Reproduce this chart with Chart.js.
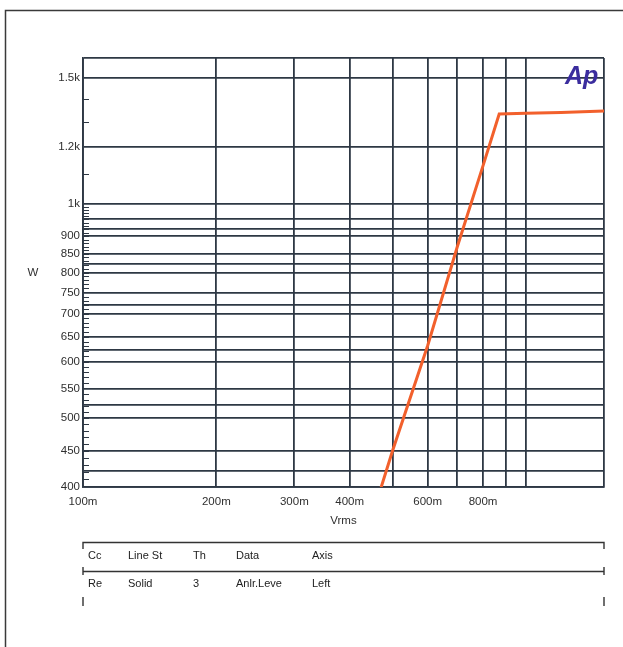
<!DOCTYPE html>
<html>
<head>
<meta charset="utf-8">
<script src="https://cdn.jsdelivr.net/npm/chart.js@4.4.1/dist/chart.umd.min.js"></script>
<style>
  html, body { margin: 0; padding: 0; background: #ffffff; }
  #wrap { width: 623px; height: 647px; position: relative; }
</style>
</head>
<body>
<div id="wrap"><canvas id="c" width="623" height="647"></canvas></div>
<script>
// Amplifier output power versus generator level
const vrms  = [0.45, 0.50, 0.60, 0.70, 0.80, 0.87, 1.00, 1.20, 1.50];
const watts = [365, 450, 632, 870, 1130, 1335, 1338, 1342, 1348];

// X axis (Vrms, logarithmic)
const xGridValues  = [0.1, 0.2, 0.3, 0.4, 0.5, 0.6, 0.7, 0.8, 0.9, 1.0, 1.5];
const xLabelValues = [0.1, 0.2, 0.3, 0.4, 0.6, 0.8];
const xLabelTexts  = ['100m', '200m', '300m', '400m', '600m', '800m'];

// Y axis (W, logarithmic)
const yGridValues  = [400, 422, 450, 500, 521, 550, 600, 622, 650, 700, 721, 750,
                      800, 822, 850, 900, 922, 950, 1000, 1200, 1500, 1600];
const yLabelValues = [400, 450, 500, 550, 600, 650, 700, 750, 800, 850, 900, 1000, 1200, 1500];
const yLabelTexts  = ['400', '450', '500', '550', '600', '650', '700', '750', '800', '850', '900', '1k', '1.2k', '1.5k'];
const yMinorExtra  = [1100, 1300, 1400];

// Settings table under the graph
const tableHeader = ['Cc', 'Line St', 'Th', 'Data', 'Axis'];
const tableRow    = ['Re', 'Solid', '3', 'Anlr.Leve', 'Left'];

const GRID = '#2e3844';
const FONT = "'Liberation Sans', Arial, sans-serif";
const TEXT = '#2f2f2f';

function labelFor(values, texts, v) {
  for (let i = 0; i < values.length; i++) {
    if (Math.abs(values[i] - v) / values[i] < 1e-6) return texts[i];
  }
  return '';
}

const decor = {
  id: 'decor',
  beforeDraw(chart) {
    const ctx = chart.ctx;
    ctx.save();
    ctx.fillStyle = '#ffffff';
    ctx.fillRect(0, 0, chart.width, chart.height);
    ctx.restore();
  },
  afterDraw(chart) {
    const ctx = chart.ctx;
    const ys = chart.scales.y;
    const a = chart.chartArea;
    ctx.save();

    // outer frame
    ctx.strokeStyle = '#3a3a3a';
    ctx.lineWidth = 1.5;
    ctx.beginPath();
    ctx.moveTo(5.5, 700); ctx.lineTo(5.5, 10.5); ctx.lineTo(700, 10.5);
    ctx.stroke();

    // inward minor ticks on the left axis
    ctx.strokeStyle = GRID;
    ctx.lineWidth = 1.2;
    const minors = [];
    for (let v = 410; v < 1000; v += 10) minors.push(v);
    minors.push(...yMinorExtra);
    ctx.beginPath();
    minors.forEach(v => {
      const y = Math.round(ys.getPixelForValue(v)) + 0.5;
      ctx.moveTo(a.left, y); ctx.lineTo(a.left + 6, y);
    });
    ctx.stroke();

    // axis titles
    ctx.fillStyle = TEXT;
    ctx.font = '11.5px ' + FONT;
    ctx.textAlign = 'center';
    ctx.textBaseline = 'middle';
    ctx.fillText('W', 33, (a.top + a.bottom) / 2);
    ctx.fillText('Vrms', (a.left + a.right) / 2, 521);

    // Ap mark
    ctx.fillStyle = '#3b2d9e';
    ctx.font = 'italic bold 25px ' + FONT;
    ctx.textAlign = 'left';
    ctx.textBaseline = 'alphabetic';
    ctx.fillText('Ap', 565, 84);

    // settings table
    const L = a.left, R = a.right;
    ctx.strokeStyle = '#333333';
    ctx.lineWidth = 1.4;
    ctx.beginPath();
    ctx.moveTo(L, 549); ctx.lineTo(L, 542.5); ctx.lineTo(R, 542.5); ctx.lineTo(R, 549);
    ctx.moveTo(L, 567); ctx.lineTo(L, 575);
    ctx.moveTo(R, 567); ctx.lineTo(R, 575);
    ctx.moveTo(L, 571.5); ctx.lineTo(R, 571.5);
    ctx.moveTo(L, 597); ctx.lineTo(L, 606);
    ctx.moveTo(R, 597); ctx.lineTo(R, 606);
    ctx.stroke();
    const cols = [88, 128, 193, 236, 312];
    ctx.fillStyle = '#222222';
    ctx.font = '11px ' + FONT;
    ctx.textBaseline = 'middle';
    tableHeader.forEach((t, i) => ctx.fillText(t, cols[i], 556));
    tableRow.forEach((t, i) => ctx.fillText(t, cols[i], 584));

    ctx.restore();
  }
};

new Chart(document.getElementById('c'), {
  type: 'line',
  data: {
    datasets: [{
      data: vrms.map((v, i) => ({ x: v, y: watts[i] })),
      borderColor: '#f2602c',
      borderWidth: 3,
      pointRadius: 0,
      tension: 0,
      fill: false
    }]
  },
  options: {
    responsive: false,
    animation: false,
    layout: { padding: { left: 0, top: 58, right: 19, bottom: 0 } },
    plugins: { legend: { display: false }, tooltip: { enabled: false } },
    scales: {
      x: {
        type: 'logarithmic',
        min: 0.1,
        max: 1.5,
        afterBuildTicks(s) { s.ticks = xGridValues.map(v => ({ value: v })); },
        afterFit(s) { s.height = 160; },
        grid: { color: GRID, lineWidth: 1.8, drawTicks: false },
        border: { display: true, color: GRID, width: 1.8 },
        ticks: {
          autoSkip: false, maxRotation: 0, padding: 8,
          color: TEXT, font: { family: FONT, size: 11.5 },
          callback: v => labelFor(xLabelValues, xLabelTexts, v)
        }
      },
      y: {
        type: 'logarithmic',
        min: 400,
        max: 1600,
        afterBuildTicks(s) { s.ticks = yGridValues.map(v => ({ value: v })); },
        afterFit(s) { s.width = 83; },
        grid: { color: GRID, lineWidth: 1.8, drawTicks: false },
        border: { display: true, color: GRID, width: 1.8 },
        ticks: {
          autoSkip: false, padding: 3,
          color: TEXT, font: { family: FONT, size: 11.5 },
          callback: v => labelFor(yLabelValues, yLabelTexts, v)
        }
      }
    }
  },
  plugins: [decor]
});
</script>
</body>
</html>
